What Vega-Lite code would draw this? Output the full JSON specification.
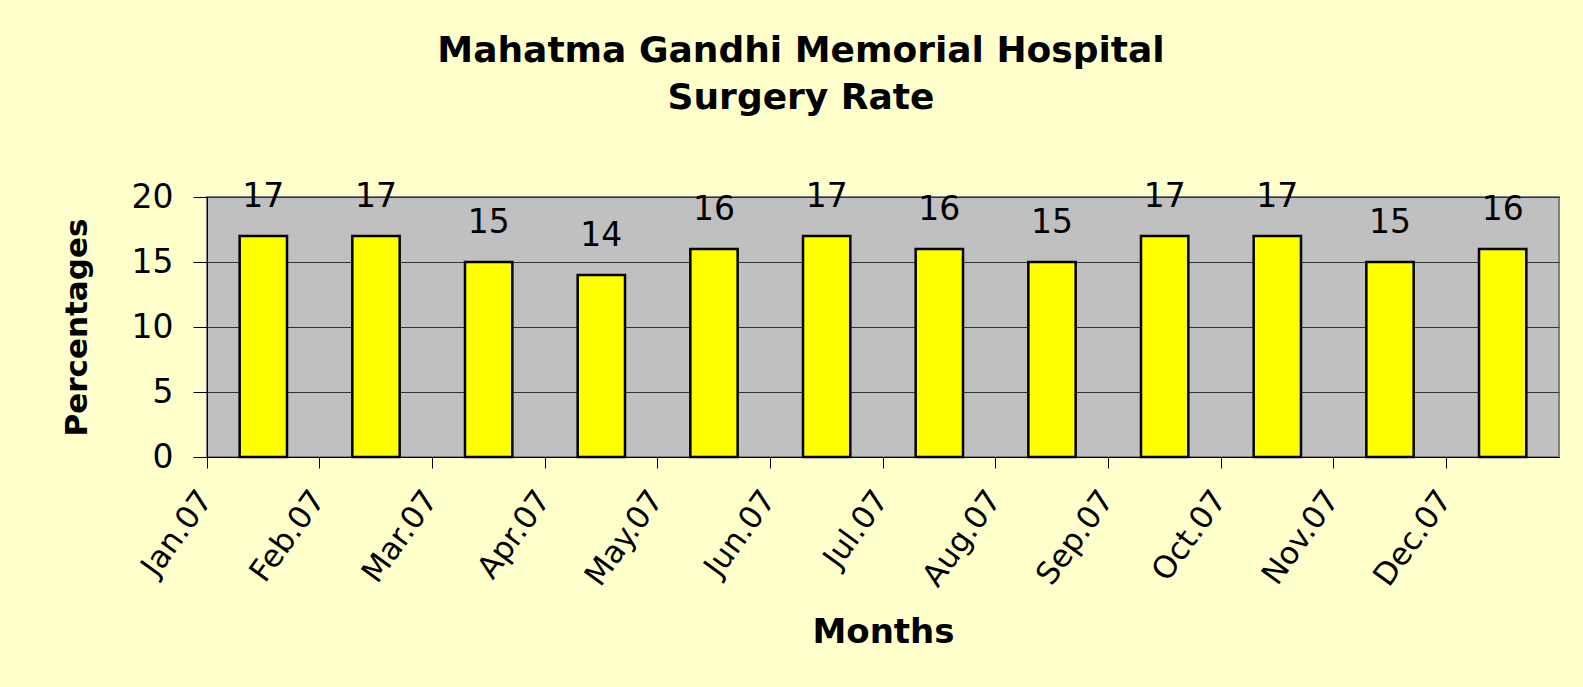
{
  "$schema": "https://vega.github.io/schema/vega-lite/v6.json",
  "width": 1352,
  "height": 260,
  "autosize": {"type": "none"},
  "padding": {"left": 207, "top": 197, "right": 24, "bottom": 230},
  "background": "#FFFFCC",
  "title": {
    "text": ["Mahatma Gandhi Memorial Hospital", "Surgery Rate"],
    "font": "DejaVu Sans",
    "fontSize": 36,
    "fontWeight": "bold",
    "lineHeight": 47,
    "color": "#000000",
    "anchor": "middle",
    "frame": "bounds",
    "offset": 64,
    "dx": -9
  },
  "data": {
    "values": [
      {"month": "Jan.07", "rate": 17},
      {"month": "Feb.07", "rate": 17},
      {"month": "Mar.07", "rate": 15},
      {"month": "Apr.07", "rate": 14},
      {"month": "May.07", "rate": 16},
      {"month": "Jun.07", "rate": 17},
      {"month": "Jul.07", "rate": 16},
      {"month": "Aug.07", "rate": 15},
      {"month": "Sep.07", "rate": 17},
      {"month": "Oct.07", "rate": 17},
      {"month": "Nov.07", "rate": 15},
      {"month": "Dec.07", "rate": 16}
    ]
  },
  "encoding": {
    "x": {
      "field": "month",
      "type": "nominal",
      "sort": null,
      "scale": {"paddingInner": 0, "paddingOuter": 0},
      "axis": {
        "title": "Months",
        "titleFont": "DejaVu Sans",
        "titleFontSize": 34,
        "titleFontWeight": "bold",
        "titleColor": "#000000",
        "titlePadding": 24,
        "labelAngle": -54,
        "labelAlign": "right",
        "labelBaseline": "middle",
        "labelFont": "DejaVu Sans",
        "labelFontSize": 31,
        "labelColor": "#000000",
        "labelPadding": 26,
        "labelOffset": -57,
        "bandPosition": 0,
        "tickSize": 11,
        "tickColor": "#000000",
        "domainColor": "#000000",
        "grid": false
      }
    }
  },
  "layer": [
    {
      "mark": {"type": "bar", "fill": "#FFFF00", "stroke": "#000000", "strokeWidth": 2.5, "width": {"band": 0.42}},
      "encoding": {
        "y": {
          "field": "rate",
          "type": "quantitative",
          "scale": {"domain": [0, 20]},
          "axis": {
            "title": "Percentages",
            "titleFont": "DejaVu Sans",
            "titleFontSize": 31,
            "titleFontWeight": "bold",
            "titleColor": "#000000",
            "titlePadding": 38,
            "values": [0, 5, 10, 15, 20],
            "labelFont": "DejaVu Sans",
            "labelFontSize": 33,
            "labelColor": "#000000",
            "labelPadding": 20,
            "tickSize": 14,
            "tickColor": "#000000",
            "domainColor": "#000000",
            "grid": true,
            "gridColor": "#333333",
            "gridWidth": 1
          }
        }
      }
    },
    {
      "mark": {"type": "text", "font": "DejaVu Sans", "fontSize": 33, "baseline": "alphabetic", "dy": -29, "color": "#000000"},
      "encoding": {
        "y": {"field": "rate", "type": "quantitative"},
        "text": {"field": "rate", "type": "quantitative"}
      }
    }
  ],
  "config": {
    "view": {"fill": "#C0C0C0", "stroke": "#808080", "strokeWidth": 2}
  }
}
